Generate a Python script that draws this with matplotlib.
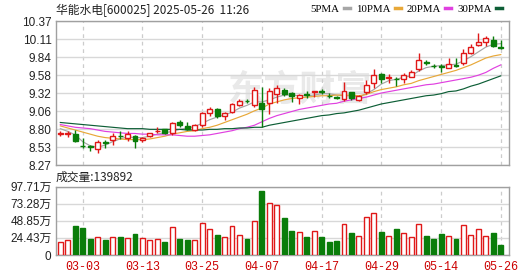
import matplotlib
matplotlib.use('Agg')
import matplotlib.pyplot as plt
from matplotlib.lines import Line2D
import numpy as np

# trading days shown (2025)
dates = ['02-26', '02-27', '02-28',
         '03-03', '03-04', '03-05', '03-06', '03-07', '03-10', '03-11', '03-12', '03-13', '03-14',
         '03-17', '03-18', '03-19', '03-20', '03-21', '03-24', '03-25', '03-26', '03-27', '03-28',
         '03-31', '04-01', '04-02', '04-03', '04-07', '04-08', '04-09', '04-10', '04-11',
         '04-14', '04-15', '04-16', '04-17', '04-18', '04-21', '04-22', '04-23', '04-24', '04-25',
         '04-28', '04-29', '04-30', '05-06', '05-07', '05-08', '05-09', '05-12', '05-13', '05-14',
         '05-15', '05-16', '05-19', '05-20', '05-21', '05-22', '05-23', '05-26']
tick_dates = ['03-03', '03-13', '03-25', '04-07', '04-17', '04-29', '05-14', '05-26']

opens = [8.72, 8.72, 8.72, 8.55, 8.54, 8.50, 8.60, 8.63, 8.70, 8.67, 8.70, 8.63, 8.69, 8.76, 8.79,
         8.73, 8.90, 8.84, 8.78, 8.85, 9.03, 9.08, 8.98, 9.05, 9.15, 9.21, 9.15, 9.17, 9.17, 9.31,
         9.37, 9.32, 9.25, 9.30, 9.33, 9.35, 9.28, 9.26, 9.23, 9.33, 9.22, 9.34, 9.47, 9.60, 9.54,
         9.53, 9.52, 9.56, 9.67, 9.77, 9.72, 9.71, 9.69, 9.73, 9.76, 9.90, 10.02, 10.07, 10.10, 9.99]
highs = [8.76, 8.77, 8.78, 8.67, 8.56, 8.63, 8.63, 8.74, 8.77, 8.77, 8.71, 8.68, 8.74, 8.82, 8.80,
         8.90, 8.92, 8.90, 8.87, 9.05, 9.11, 9.10, 9.05, 9.18, 9.23, 9.23, 9.41, 9.41, 9.39, 9.43,
         9.39, 9.34, 9.31, 9.35, 9.35, 9.38, 9.32, 9.28, 9.48, 9.34, 9.29, 9.51, 9.67, 9.61, 9.60,
         9.56, 9.61, 9.66, 9.90, 9.80, 9.75, 9.74, 9.83, 9.83, 9.96, 10.04, 10.19, 10.15, 10.15, 10.10]
lows = [8.69, 8.68, 8.61, 8.52, 8.47, 8.45, 8.52, 8.56, 8.65, 8.62, 8.52, 8.60, 8.68, 8.73, 8.72,
        8.71, 8.82, 8.78, 8.77, 8.83, 8.98, 8.95, 8.93, 9.03, 9.13, 9.17, 9.12, 8.82, 9.01, 9.18,
        9.27, 9.19, 9.16, 9.24, 9.26, 9.30, 9.24, 9.23, 9.20, 9.22, 9.20, 9.31, 9.39, 9.46, 9.47,
        9.42, 9.46, 9.55, 9.64, 9.73, 9.68, 9.63, 9.68, 9.70, 9.73, 9.89, 10.00, 10.00, 9.99, 9.96]
closes = [8.73, 8.73, 8.62, 8.54, 8.53, 8.61, 8.59, 8.69, 8.69, 8.72, 8.62, 8.67, 8.73, 8.77, 8.73,
          8.88, 8.85, 8.80, 8.85, 9.03, 9.08, 8.98, 9.03, 9.16, 9.21, 9.20, 9.36, 9.08, 9.35, 9.40,
          9.30, 9.27, 9.29, 9.29, 9.35, 9.34, 9.27, 9.25, 9.35, 9.24, 9.28, 9.44, 9.58, 9.53, 9.55,
          9.52, 9.58, 9.63, 9.80, 9.76, 9.71, 9.70, 9.75, 9.72, 9.90, 9.99, 10.06, 10.12, 10.01, 9.98]

# volume in 万 (10k hands)
vols = [18.0, 21.3, 41.5, 38.4, 22.8, 25.1, 21.3, 25.1, 25.6, 23.7, 29.4, 23.7, 21.3, 22.8, 18.5,
        39.3, 22.8, 21.3, 21.3, 45.8, 36.8, 28.4, 25.1, 41.0, 28.4, 22.8, 48.4, 91.2, 73.5, 71.6,
        52.6, 34.1, 32.7, 25.6, 34.1, 25.6, 19.0, 19.9, 44.1, 31.8, 26.5, 53.6, 59.7, 32.7, 26.5,
        37.0, 31.3, 25.1, 44.1, 27.0, 22.8, 29.9, 26.5, 22.8, 42.7, 28.4, 36.5, 26.5, 31.8, 14.0]

ma5 = [8.80, 8.76, 8.71, 8.61, 8.55, 8.53, 8.56, 8.61, 8.65, 8.68, 8.67, 8.67, 8.69, 8.72, 8.74,
       8.76, 8.79, 8.81, 8.83, 8.88, 8.93, 8.97, 9.00, 9.04, 9.10, 9.14, 9.19, 9.19, 9.22, 9.26,
       9.29, 9.29, 9.28, 9.28, 9.29, 9.31, 9.31, 9.29, 9.28, 9.28, 9.26, 9.31, 9.37, 9.45, 9.50,
       9.52, 9.55, 9.57, 9.64, 9.69, 9.71, 9.72, 9.73, 9.74, 9.79, 9.85, 9.92, 9.99, 10.03, 10.04]
ma10 = [8.84, 8.81, 8.78, 8.75, 8.72, 8.69, 8.67, 8.66, 8.65, 8.64, 8.64, 8.64, 8.65, 8.67, 8.69,
        8.72, 8.74, 8.76, 8.77, 8.80, 8.82, 8.85, 8.89, 8.93, 8.97, 9.01, 9.06, 9.10, 9.16, 9.19,
        9.22, 9.24, 9.25, 9.26, 9.27, 9.28, 9.28, 9.29, 9.29, 9.29, 9.28, 9.30, 9.34, 9.37, 9.39,
        9.41, 9.44, 9.46, 9.50, 9.53, 9.56, 9.59, 9.62, 9.65, 9.69, 9.73, 9.78, 9.83, 9.86, 9.88]
ma20 = [8.86, 8.84, 8.82, 8.81, 8.80, 8.78, 8.76, 8.75, 8.74, 8.73, 8.73, 8.72, 8.72, 8.71, 8.71,
        8.71, 8.70, 8.69, 8.69, 8.70, 8.71, 8.73, 8.75, 8.77, 8.80, 8.82, 8.85, 8.90, 8.95, 8.99,
        9.02, 9.05, 9.08, 9.10, 9.12, 9.14, 9.16, 9.17, 9.20, 9.22, 9.24, 9.26, 9.29, 9.32, 9.34,
        9.36, 9.38, 9.40, 9.42, 9.44, 9.45, 9.47, 9.49, 9.51, 9.53, 9.55, 9.58, 9.62, 9.68, 9.73]
ma30 = [8.89, 8.88, 8.87, 8.86, 8.85, 8.84, 8.83, 8.82, 8.81, 8.80, 8.80, 8.80, 8.79, 8.79, 8.79,
        8.79, 8.79, 8.78, 8.78, 8.78, 8.79, 8.79, 8.80, 8.80, 8.81, 8.81, 8.82, 8.82, 8.85, 8.87,
        8.89, 8.91, 8.93, 8.95, 8.97, 8.99, 9.00, 9.02, 9.03, 9.05, 9.07, 9.10, 9.13, 9.16, 9.18,
        9.20, 9.22, 9.24, 9.26, 9.28, 9.29, 9.31, 9.34, 9.35, 9.38, 9.42, 9.45, 9.49, 9.53, 9.57]

price_labels = ['8.27', '8.53', '8.80', '9.06', '9.32', '9.58', '9.84', '10.11', '10.37']
vol_labels = ['0', '24.43万', '48.85万', '73.28万', '97.71万']

RED = '#e01818'
GREEN = '#0a7d0a'
GRID = '#d8d8d8'
FRAME = '#a0a0a0'

plt.rcParams['font.family'] = ['Liberation Sans', 'Noto Sans CJK SC']

fig = plt.figure(figsize=(5.3, 2.76), dpi=100)
W, H = 530.0, 276.0
ax = fig.add_axes([55.7 / W, 1 - 165 / H, (509 - 55.7) / W, 144 / H])
axv = fig.add_axes([55.7 / W, 1 - 255 / H, (509 - 55.7) / W, 68.5 / H])

x = np.arange(len(dates))
o = np.array(opens)
c = np.array(closes)
up = c >= o
cols = [RED if u else GREEN for u in up]
faces = ['white' if u else GREEN for u in up]
tick_pos = [dates.index(d) for d in tick_dates]

# watermark
ax.text(0.54, 0.52, '东方财富', transform=ax.transAxes, ha='center', va='center',
        fontsize=26, color='#e9e9e9', fontweight='bold', style='italic',
        family=['Noto Sans CJK SC'], zorder=0)

# moving averages
ax.plot(x, ma5, color='#a6a6a6', lw=0.85, zorder=2)
ax.plot(x, ma10, color='#e8a838', lw=0.85, zorder=2)
ax.plot(x, ma20, color='#e040e0', lw=0.85, zorder=2)
ax.plot(x, ma30, color='#0d5e36', lw=0.85, zorder=2)

# candles
ax.vlines(x, lows, highs, colors=cols, lw=1.0, zorder=3)
body = np.maximum(np.abs(c - o), 0.004)
ax.bar(x, body, bottom=np.minimum(o, c), width=0.66, color=faces, edgecolor=cols,
       linewidth=1.0, zorder=4)

ax.set_xlim(-0.62, 60.1)
ax.set_ylim(8.27, 10.37)
ax.set_yticks(np.linspace(8.27, 10.37, 9))
ax.set_yticklabels(price_labels)
ax.set_xticks(tick_pos)
ax.tick_params(labelbottom=False, length=0, pad=3, labelsize=8.5, colors='#222222')
ax.grid(axis='y', color=GRID, lw=1.0, zorder=1)
for p in tick_pos:
    ax.axvline(p, color='#cccccc', lw=0.9, ls=(0, (3, 3)), zorder=1)

# volume
axv.bar(x, vols, width=0.66, color=faces, edgecolor=cols, linewidth=1.0, zorder=3)
axv.set_xlim(-0.62, 60.1)
axv.set_ylim(0, 97.71)
axv.set_yticks(np.linspace(0, 97.71, 5))
axv.set_yticklabels(vol_labels)
axv.set_xticks(tick_pos)
axv.set_xticklabels(tick_dates, family=['Liberation Mono'], fontsize=8.5, color='#cc0000')
axv.tick_params(length=0, pad=3, labelsize=8.5, colors='#222222')
axv.tick_params(axis='x', pad=4, colors='#cc0000')
axv.grid(axis='y', color=GRID, lw=1.0, zorder=1)
for p in tick_pos:
    axv.axvline(p, color='#cccccc', lw=0.9, ls=(0, (3, 3)), zorder=1)

for a in (ax, axv):
    for s in a.spines.values():
        s.set_color(FRAME)
        s.set_linewidth(1.0)

# header texts
fig.text(56 / W, 1 - 10 / H, '华能水电[600025] 2025-05-26  11:26', ha='left', va='center',
         fontsize=8.5, color='#222222', family=['Noto Sans CJK SC'])
fig.text(56 / W, 1 - 177 / H, '成交量:139892', ha='left', va='center',
         fontsize=8.5, color='#222222', family=['Noto Sans CJK SC'])

handles = [Line2D([], [], color=col, lw=2.5) for col in ['#a6a6a6', '#e8a838', '#e040e0', '#0d5e36']]
fig.legend(handles, ['5PMA', '10PMA', '20PMA', '30PMA'], ncol=4, loc='center right',
           bbox_to_anchor=(502 / W, 1 - 9 / H), frameon=False, handlelength=0.55,
           handletextpad=0.4, columnspacing=0.55, markerfirst=False,
           prop={'family': 'Liberation Serif', 'size': 7.8}, borderpad=0, borderaxespad=0)

fig.savefig('out.png', dpi=100)
